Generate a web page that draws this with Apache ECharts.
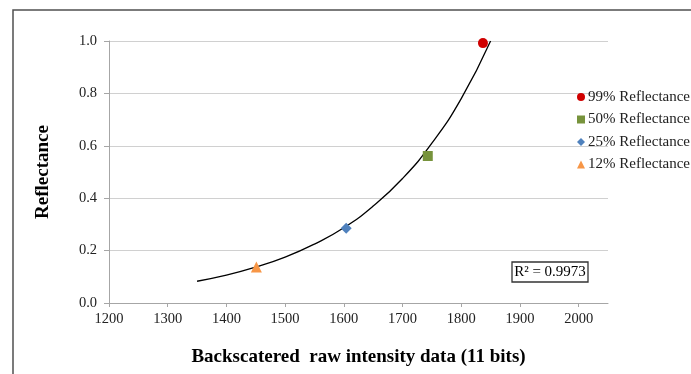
<!DOCTYPE html>
<html>
<head>
<meta charset="utf-8">
<script src="https://cdn.jsdelivr.net/npm/echarts@6/dist/echarts.min.js"></script>
<style>
html,body{margin:0;padding:0;background:#fff;}
#chart{width:691px;height:374px;}
</style>
</head>
<body>
<div id="chart"></div>
<script>
// ---- data ----
const seriesNames = ['99% Reflectance', '50% Reflectance', '25% Reflectance', '12% Reflectance'];
const pointX = [1837, 1743, 1604, 1451];
const pointY = [0.992, 0.561, 0.285, 0.137];
const trendX = [1350, 1400, 1450, 1500, 1550, 1600, 1650, 1700, 1750, 1800, 1850];
const trendY = [0.083, 0.106, 0.137, 0.175, 0.225, 0.287, 0.370, 0.475, 0.610, 0.780, 1.000];
const xTickLabels = [1200, 1300, 1400, 1500, 1600, 1700, 1800, 1900, 2000];
const yTickLabels = [0.0, 0.2, 0.4, 0.6, 0.8, 1.0];
const rSquaredText = 'R\u00B2 = 0.9973';
const xTitle = 'Backscatered  raw intensity data (11 bits)';
const yTitle = 'Reflectance';

// ---- styles ----
const colors = ['#D00000', '#77933C', '#4F81BD', '#F79646'];
const symbols = ['circle', 'rect', 'diamond', 'triangle'];
const symbolSizes = [10, 10, 11, 11];
const serif = '"Liberation Serif", "Times New Roman", serif';

const chart = echarts.init(document.getElementById('chart'), null, {renderer: 'canvas'});

const scatterSeries = seriesNames.map((n, i) => ({
  name: n,
  type: 'scatter',
  symbol: symbols[i],
  symbolSize: symbolSizes[i],
  itemStyle: {color: colors[i], opacity: 1},
  data: [[pointX[i], pointY[i]]],
  z: 3
}));

const option = {
  animation: false,
  backgroundColor: '#ffffff',
  grid: {left: 109, right: 83, top: 41, bottom: 71},
  xAxis: {
    type: 'value',
    min: 1200,
    max: 2050,
    interval: 100,
    name: xTitle,
    nameLocation: 'middle',
    nameGap: 45,
    nameTextStyle: {fontFamily: serif, fontWeight: 'bold', fontSize: 19, color: '#000'},
    axisLine: {show: true, lineStyle: {color: '#A6A6A6', width: 1}},
    axisTick: {show: true, length: 4, inside: false, lineStyle: {color: '#A6A6A6'}, customValues: xTickLabels},
    axisLabel: {fontFamily: serif, fontSize: 14.5, color: '#222', margin: 9, customValues: xTickLabels,
      formatter: v => String(v)},
    splitLine: {show: false}
  },
  yAxis: {
    type: 'value',
    min: 0,
    max: 1,
    interval: 0.2,
    name: yTitle,
    nameLocation: 'middle',
    nameGap: 56,
    nameRotate: 90,
    nameTextStyle: {fontFamily: serif, fontWeight: 'bold', fontSize: 19, color: '#000'},
    axisLine: {show: true, lineStyle: {color: '#A6A6A6', width: 1}},
    axisTick: {show: true, length: 5, inside: false, lineStyle: {color: '#A6A6A6'}},
    axisLabel: {
      fontFamily: serif, fontSize: 14.5, color: '#222', margin: 12,
      customValues: yTickLabels,
      formatter: v => v.toFixed(1)
    },
    splitLine: {show: true, lineStyle: {color: '#D0D0D0', width: 1}}
  },
  legend: {
    orient: 'vertical',
    left: 572,
    top: 84,
    itemWidth: 8,
    itemHeight: 8,
    itemGap: 6.5,
    data: seriesNames,
    textStyle: {fontFamily: serif, fontSize: 15, color: '#222', lineHeight: 16, padding: [0, 0, 0, -2]}
  },
  graphic: [
    {
      type: 'rect',
      x: 13, y: 10,
      shape: {x: 0, y: 0, width: 720, height: 400},
      style: {fill: 'none', stroke: '#505050', lineWidth: 1.5},
      z: 0
    },
    {
      type: 'group',
      x: 512, y: 262,
      children: [
        {type: 'rect', shape: {x: 0, y: 0, width: 76, height: 20},
         style: {fill: '#fff', stroke: '#333', lineWidth: 1.3}},
        {type: 'text', x: 38, y: 10,
         style: {text: rSquaredText, font: '15px ' + serif, fill: '#000', align: 'center', verticalAlign: 'middle'}}
      ],
      z: 10
    }
  ],
  series: [
    {
      name: 'trend',
      type: 'line',
      smooth: true,
      showSymbol: false,
      symbol: 'none',
      lineStyle: {color: '#000', width: 1.3},
      data: trendX.map((x, i) => [x, trendY[i]]),
      z: 2
    }
  ].concat(scatterSeries)
};

chart.setOption(option);
</script>
</body>
</html>
